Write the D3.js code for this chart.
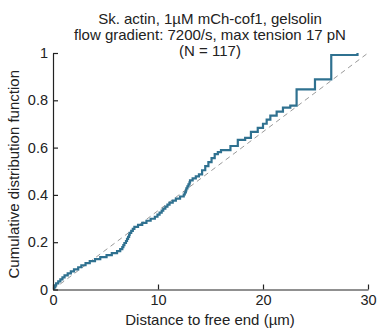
<!DOCTYPE html>
<html><head><meta charset="utf-8">
<script src="https://cdn.jsdelivr.net/npm/d3@7"></script>
<style>body{margin:0;background:#fff}svg{display:block}</style>
</head><body>
<script>
const titleLines = ["Sk. actin, 1µM mCh-cof1, gelsolin", "flow gradient: 7200/s, max tension 17 pN", "(N = 117)"];
const xLabel = "Distance to free end (µm)";
const yLabel = "Cumulative distribution function";
const xTicks = [0, 10, 20, 30];
const yTicks = [0, 0.2, 0.4, 0.6, 0.8, 1];
const yTickLabels = ["0", "0.2", "0.4", "0.6", "0.8", "1"];
// sorted distances to free end (µm), N = 117
const distances = [
 0.1, 0.2, 0.3, 0.5, 0.7, 0.9, 1.1, 1.4, 1.7, 2.0,
 2.4, 2.7, 3.1, 3.5, 4.0, 4.5, 5.1, 5.6, 6.1, 6.4,
 6.6, 6.7, 6.8, 6.95, 7.05, 7.15, 7.25, 7.3, 7.45, 7.6,
 7.75, 8.1, 8.5, 8.9, 9.3, 9.7, 9.95, 10.15, 10.35, 10.5,
 10.7, 10.9, 11.1, 11.4, 11.7, 12.1, 12.45, 12.55, 12.65, 12.7,
 12.8, 12.9, 13.0, 13.05, 13.3, 13.6, 13.9, 14.2, 14.2, 14.5,
 14.5, 14.8, 14.8, 15.1, 15.1, 15.4, 15.4, 15.7, 16.0, 16.9,
 16.9, 17.6, 17.6, 17.6, 18.3, 18.85, 18.85, 18.85, 19.5, 19.5,
 20.0, 20.0, 20.35, 20.35, 20.7, 20.7, 21.3, 21.3, 21.9, 21.9,
 22.6, 23.2, 23.2, 23.2, 23.2, 23.2, 23.2, 23.2, 23.2, 24.95,
 24.95, 24.95, 24.95, 24.95, 26.5, 26.5, 26.5, 26.5, 26.5, 26.5,
 26.5, 26.5, 26.5, 26.5, 26.5, 26.5, 29.0
];
const reference = [[0, 0], [30, 1]];

const W = 378, H = 329;
const svg = d3.select("body").append("svg").attr("width", W).attr("height", H);
const x = d3.scaleLinear().domain([0, 30]).range([53, 368]);
const y = d3.scaleLinear().domain([0, 1]).range([289.5, 53]);
const font = "'Liberation Sans', Arial, sans-serif";

// dashed reference
svg.append("path")
  .attr("d", d3.line().x(d => x(d[0])).y(d => y(d[1]))(reference))
  .attr("fill", "none").attr("stroke", "#9a9a9a").attr("stroke-width", 1)
  .attr("stroke-dasharray", "5,4");

// ECDF
const N = distances.length;
const pts = [[distances[0], 0]].concat(distances.map((v, i) => [v, (i + 1) / N]));
svg.append("path")
  .attr("d", d3.line().x(d => x(d[0])).y(d => y(d[1])).curve(d3.curveStepAfter)(pts))
  .attr("fill", "none").attr("stroke", "#2f7190").attr("stroke-width", 2.2)
  .attr("stroke-linejoin", "miter");

// axes
const xa = svg.append("g").attr("transform", `translate(0,${y(0)})`)
  .call(d3.axisBottom(x).tickValues(xTicks).tickSizeInner(-5).tickSizeOuter(0).tickPadding(5));
const ya = svg.append("g").attr("transform", `translate(${x(0)},0)`)
  .call(d3.axisLeft(y).tickValues(yTicks).tickFormat((d, i) => yTickLabels[i]).tickSizeInner(-5).tickSizeOuter(0).tickPadding(5));
[xa, ya].forEach(a => {
  a.selectAll("path,line").attr("stroke", "#222").attr("stroke-width", 1.2);
  a.selectAll("text").attr("font-family", font).attr("font-size", 14.5).attr("fill", "#222");
});

// titles
svg.append("g").selectAll("text").data(titleLines).join("text")
  .attr("x", 210).attr("y", (d, i) => 24 + i * 16)
  .attr("text-anchor", "middle").attr("font-family", font).attr("font-size", 15).attr("fill", "#222")
  .text(d => d);

svg.append("text").attr("x", 210).attr("y", 324.5).attr("text-anchor", "middle")
  .attr("font-family", font).attr("font-size", 15).attr("fill", "#222").text(xLabel);

svg.append("text").attr("transform", `translate(19,${(y(0) + y(1)) / 2 + 3}) rotate(-90)`)
  .attr("text-anchor", "middle").attr("font-family", font).attr("font-size", 15).attr("fill", "#222").text(yLabel);
</script>
</body></html>
